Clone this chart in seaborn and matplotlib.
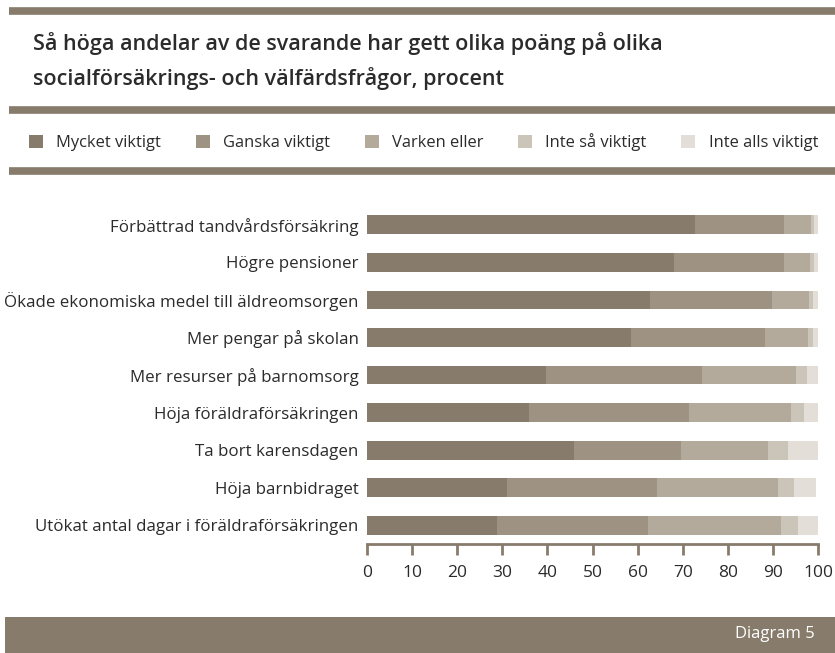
import matplotlib
matplotlib.use("Agg")
import matplotlib.pyplot as plt
import matplotlib.patches as mpatches
from matplotlib.lines import Line2D
import numpy as np
import pandas as pd
import seaborn as sns

categories = [
    "Förbättrad tandvårdsförsäkring",
    "Högre pensioner",
    "Ökade ekonomiska medel till äldreomsorgen",
    "Mer pengar på skolan",
    "Mer resurser på barnomsorg",
    "Höja föräldraförsäkringen",
    "Ta bort karensdagen",
    "Höja barnbidraget",
    "Utökat antal dagar i föräldraförsäkringen",
]
series = ["Mycket viktigt", "Ganska viktigt", "Varken eller", "Inte så viktigt", "Inte alls viktigt"]
mycket = [72.7, 68.1, 62.7, 58.5, 39.7, 35.9, 45.9, 31.0, 28.8]
ganska = [19.8, 24.4, 27.1, 29.7, 34.6, 35.5, 23.7, 33.3, 33.5]
varken = [5.9, 5.7, 8.2, 9.6, 20.8, 22.6, 19.3, 26.8, 29.5]
inte_sa = [0.7, 0.9, 0.9, 1.1, 2.5, 2.9, 4.4, 3.6, 3.8]
inte_alls = [0.9, 0.9, 1.1, 1.1, 2.4, 3.1, 6.7, 4.9, 4.4]
colors = ["#877b6b", "#9e9282", "#b4aa9c", "#cbc4b9", "#e3dfd8"]
brown = "#877b6b"
text_col = "#2b2b2b"

sns.set_style("white")
plt.rcParams["font.family"] = ["Open Sans", "DejaVu Sans"]

df = pd.DataFrame({"kategori": categories, series[0]: mycket, series[1]: ganska,
                   series[2]: varken, series[3]: inte_sa, series[4]: inte_alls})
cum = df[series].cumsum(axis=1)

fig = plt.figure(figsize=(8.35, 6.53), dpi=100)
ax = fig.add_axes([367 / 835, 1 - 544 / 653, (818 - 367) / 835, (544 - 206) / 653])

# draw cumulative layers from the outermost inwards
for s, c in reversed(list(zip(series, colors))):
    sns.barplot(x=cum[s], y=df["kategori"], color=c, orient="h", width=0.5,
                ax=ax, saturation=1, linewidth=0)

ax.set_xlim(0, 100)
ax.set_xticks(range(0, 101, 10))
ax.set_xlabel("")
ax.set_ylabel("")
for sp in ["top", "right", "left"]:
    ax.spines[sp].set_visible(False)
ax.spines["bottom"].set_color(brown)
ax.spines["bottom"].set_linewidth(2)
ax.tick_params(axis="x", bottom=True, direction="out", length=8, width=2, color=brown,
               labelsize=12.5, labelcolor=text_col, pad=7)
ax.tick_params(axis="y", left=False, length=0, labelsize=12.2, labelcolor=text_col, pad=6)

# horizontal bands
for yc, lw in [(11, 5.5), (110, 5.5), (171, 5.5)]:
    fig.add_artist(Line2D([9 / 835, 1], [1 - yc / 653] * 2, color=brown,
                          linewidth=lw, transform=fig.transFigure, solid_capstyle="butt"))

fig.text(33 / 835, 1 - 44 / 653, "Så höga andelar av de svarande har gett olika poäng på olika",
         fontsize=15.5, fontweight="semibold", color=text_col, va="center")
fig.text(33 / 835, 1 - 79 / 653, "socialförsäkrings- och välfärdsfrågor, procent",
         fontsize=15.5, fontweight="semibold", color=text_col, va="center")

handles = [mpatches.Patch(facecolor=c, edgecolor="none", label=s) for s, c in zip(series, colors)]
fig.legend(handles=handles, loc="center left", bbox_to_anchor=(14 / 835, 1 - 142 / 653), ncol=5,
           frameon=False, fontsize=11.9, handlelength=0.85, handleheight=0.85,
           handletextpad=0.8, columnspacing=2.1, labelcolor=text_col)

fig.add_artist(mpatches.Rectangle((5 / 835, 0), 1, 36 / 653, facecolor=brown,
                                  edgecolor="none", transform=fig.transFigure))
fig.text(815 / 835, 1 - 634 / 653, "Diagram 5", color="white", fontsize=12,
         ha="right", va="center")

fig.savefig("out.png", dpi=100)
